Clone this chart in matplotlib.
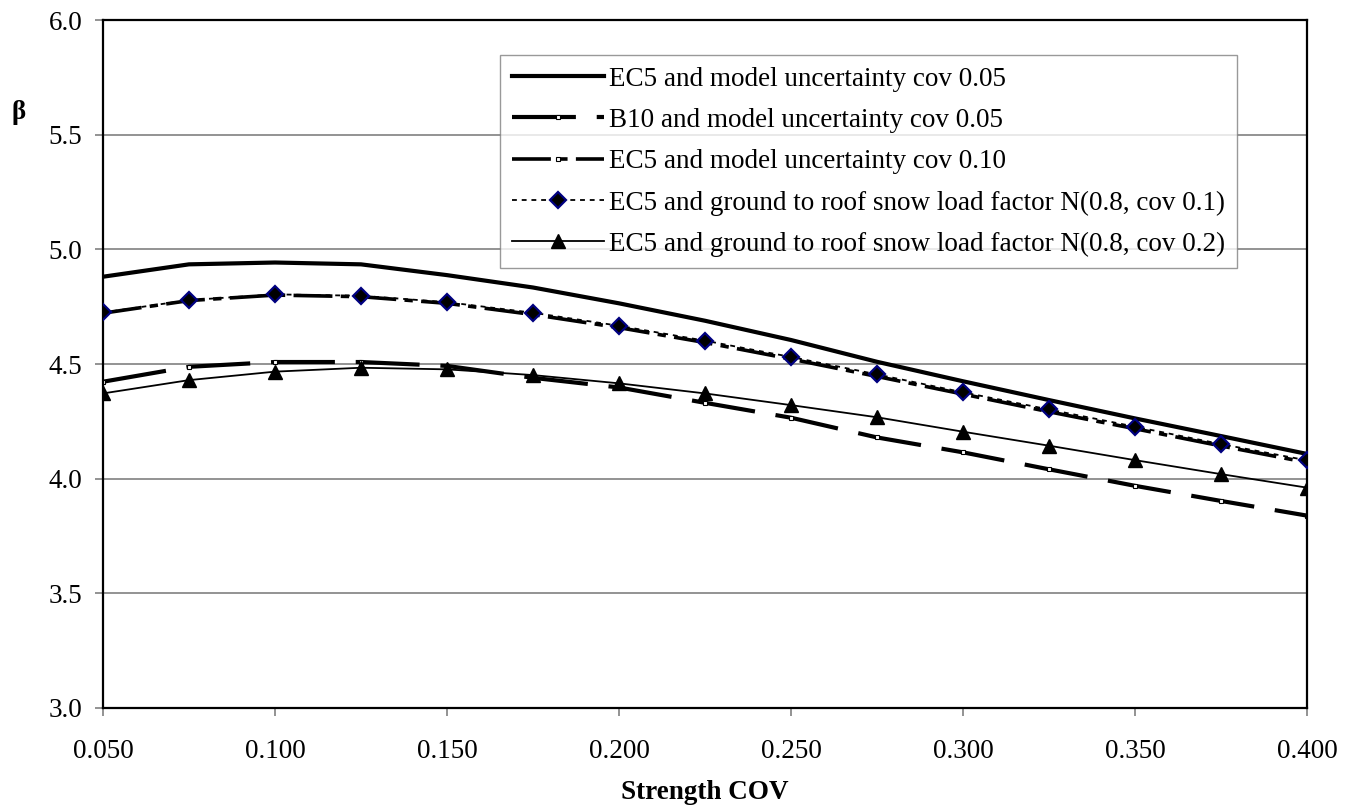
import numpy as np
import matplotlib.pyplot as plt

plt.rcParams['font.family'] = ['Liberation Serif', 'DejaVu Serif']
plt.rcParams['lines.scale_dashes'] = False

# dados
cov = [0.050, 0.075, 0.100, 0.125, 0.150, 0.175, 0.200, 0.225,
       0.250, 0.275, 0.300, 0.325, 0.350, 0.375, 0.400]

ec5_mu05 = [4.881, 4.935, 4.943, 4.935, 4.888, 4.834, 4.765, 4.689,
            4.605, 4.510, 4.425, 4.343, 4.263, 4.186, 4.108]
b10_mu05 = [4.423, 4.488, 4.509, 4.509, 4.492, 4.440, 4.398, 4.331,
            4.266, 4.180, 4.115, 4.041, 3.969, 3.903, 3.839]
ec5_mu10 = [4.722, 4.777, 4.801, 4.794, 4.765, 4.716, 4.659, 4.594,
            4.522, 4.446, 4.369, 4.292, 4.218, 4.143, 4.071]
snow_01 = [4.725, 4.779, 4.804, 4.798, 4.770, 4.724, 4.667, 4.602,
           4.531, 4.455, 4.377, 4.302, 4.227, 4.151, 4.080]
snow_02 = [4.372, 4.430, 4.467, 4.484, 4.477, 4.452, 4.416, 4.372,
           4.321, 4.268, 4.205, 4.144, 4.081, 4.020, 3.961]

labels = ['EC5 and model uncertainty cov 0.05',
          'B10 and model uncertainty cov 0.05',
          'EC5 and model uncertainty cov 0.10',
          'EC5 and ground to roof snow load factor N(0.8, cov 0.1)',
          'EC5 and ground to roof snow load factor N(0.8, cov 0.2)']

xticks = [0.05, 0.10, 0.15, 0.20, 0.25, 0.30, 0.35, 0.40]
yticks = [3.0, 3.5, 4.0, 4.5, 5.0, 5.5, 6.0]

fs = 19.5

#---------------------------------------------------------------------------------
fig = plt.figure(figsize=(13.55, 8.07), dpi=100)
ax = fig.add_axes([0.076, 0.1227, 0.8886, 0.8523])

for yv in yticks[1:-1]:
    ax.axhline(yv, color='#808080', lw=1.2, zorder=0)

ax.plot(cov, ec5_mu05, color='black', lw=3.0, label=labels[0], zorder=3)
ax.plot(cov, b10_mu05, color='black', lw=3.0, dashes=(46, 15),
        marker='s', ms=3, mfc='white', mec='black', mew=0.8,
        label=labels[1], zorder=2)
ax.plot(cov, ec5_mu10, color='black', lw=2.6, dashes=(28, 6, 6, 6),
        marker='s', ms=3, mfc='white', mec='black', mew=0.8,
        label=labels[2], zorder=2)
ax.plot(cov, snow_01, color='black', lw=1.3, dashes=(3.5, 3.5),
        marker='D', ms=8, mfc='black', mec='#000080', mew=1.6,
        label=labels[3], zorder=4)
ax.plot(cov, snow_02, color='black', lw=1.3,
        marker='^', ms=10, mfc='black', mec='black',
        label=labels[4], zorder=4)

ax.set_xlim(0.05, 0.40)
ax.set_ylim(3.0, 6.0)
ax.set_xticks(xticks)
ax.set_yticks(yticks)
ax.set_xticklabels(['%.3f' % t for t in xticks])
ax.set_yticklabels(['%.1f' % t for t in yticks])
ax.tick_params(axis='both', direction='out', length=6, width=1.2,
               color='#808080', labelsize=fs)
ax.tick_params(axis='x', pad=16)
ax.tick_params(axis='y', pad=9)
for s in ax.spines.values():
    s.set_linewidth(1.6)
    s.set_color('black')

fig.text(0.52, 0.003, 'Strength COV', fontsize=fs, fontweight='bold',
         ha='center', va='bottom')
fig.text(0.0135, 0.86, 'β', fontsize=fs, fontweight='bold',
         ha='center', va='center')

leg = ax.legend(loc='upper left', bbox_to_anchor=(0.33, 0.949),
                borderaxespad=0, fontsize=fs, frameon=True, fancybox=False,
                edgecolor='#808080', handlelength=3.4, handletextpad=0.2,
                labelspacing=0.6, borderpad=0.42)
leg.get_frame().set_linewidth(1.0)

plt.savefig('out.png', dpi=100)
